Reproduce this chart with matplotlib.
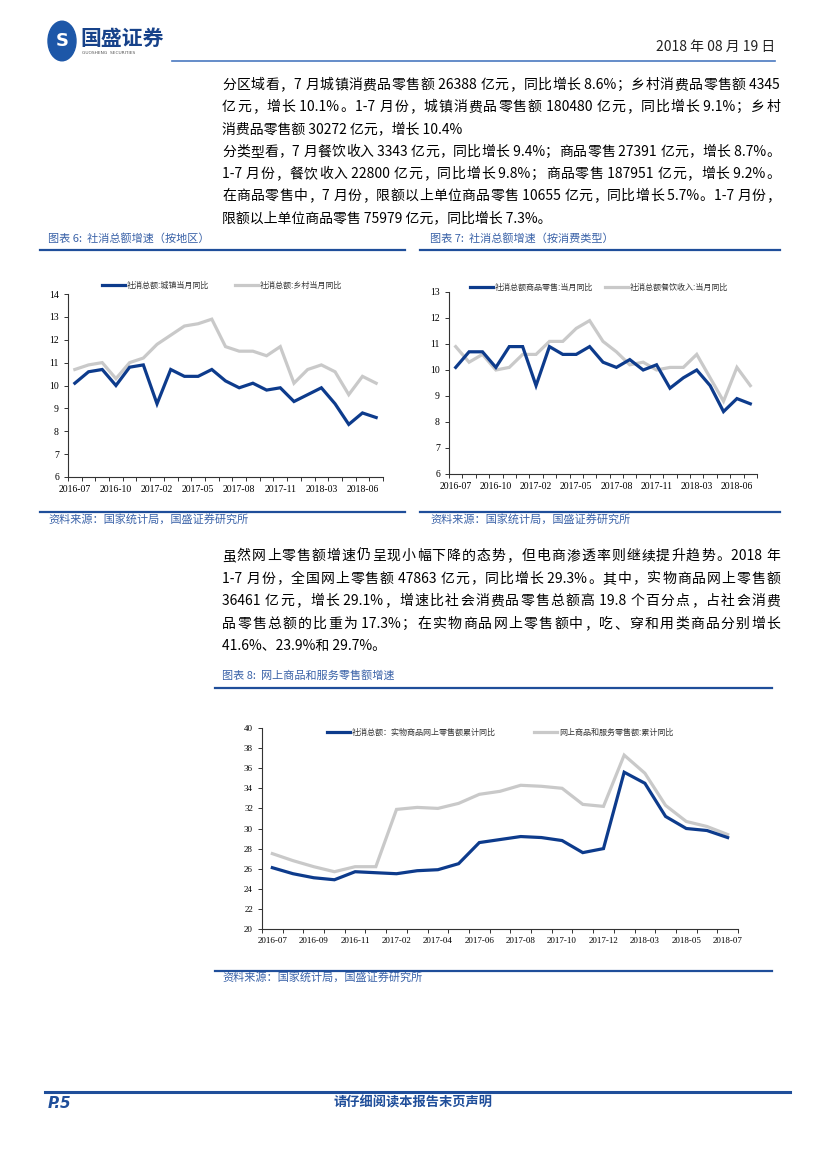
import matplotlib
matplotlib.use('Agg')
import matplotlib.pyplot as plt
from matplotlib.patches import Circle
from matplotlib.lines import Line2D

# fuentes: CJK primero, DejaVu para lo que falte
plt.rcParams['font.family'] = ['Noto Sans CJK SC', 'DejaVu Sans']

# ---------------- datos ----------------
meses = ['2016-07', '2016-08', '2016-09', '2016-10', '2016-11', '2016-12',
         '2017-02', '2017-03', '2017-04', '2017-05', '2017-06', '2017-07',
         '2017-08', '2017-09', '2017-10', '2017-11', '2017-12',
         '2018-02', '2018-03', '2018-04', '2018-05', '2018-06', '2018-07']

# grafico 6: por region
urbano = [10.1, 10.6, 10.7, 10.0, 10.8, 10.9, 9.2, 10.7, 10.4, 10.4, 10.7, 10.2,
          9.9, 10.1, 9.8, 9.9, 9.3, 9.6, 9.9, 9.2, 8.3, 8.8, 8.6]
rural = [10.7, 10.9, 11.0, 10.3, 11.0, 11.2, 11.8, 12.2, 12.6, 12.7, 12.9, 11.7,
         11.5, 11.5, 11.3, 11.7, 10.1, 10.7, 10.9, 10.6, 9.6, 10.4, 10.1]
leyenda6 = ['社消总额:城镇当月同比', '社消总额:乡村当月同比']

# grafico 7: por tipo de consumo
mercancias = [10.1, 10.7, 10.7, 10.1, 10.9, 10.9, 9.4, 10.9, 10.6, 10.6, 10.9, 10.3,
              10.1, 10.4, 10.0, 10.2, 9.3, 9.7, 10.0, 9.4, 8.4, 8.9, 8.7]
restaurantes = [10.9, 10.3, 10.6, 10.0, 10.1, 10.6, 10.6, 11.1, 11.1, 11.6, 11.9, 11.1,
                10.7, 10.2, 10.3, 10.0, 10.1, 10.1, 10.6, 9.7, 8.8, 10.1, 9.4]
leyenda7 = ['社消总额商品零售:当月同比', '社消总额餐饮收入:当月同比']

# grafico 8: ventas en linea (acumulado)
fisicos = [26.1, 25.5, 25.1, 24.9, 25.7, 25.6, 25.5, 25.8, 25.9, 26.5, 28.6, 28.9,
           29.2, 29.1, 28.8, 27.6, 28.0, 35.6, 34.5, 31.2, 30.0, 29.8, 29.1]
en_linea = [27.5, 26.8, 26.2, 25.7, 26.2, 26.2, 31.9, 32.1, 32.0, 32.5, 33.4, 33.7,
            34.3, 34.2, 34.0, 32.4, 32.2, 37.3, 35.5, 32.3, 30.7, 30.2, 29.4]
leyenda8 = ['社消总额：实物商品网上零售额累计同比', '网上商品和服务零售额:累计同比']

# texto: (linea, justificada?)
parrafo1 = [('分区域看，7 月城镇消费品零售额 26388 亿元，同比增长 8.6%；乡村消费品零售额 4345', True),
            ('亿元，增长 10.1%。1-7 月份，城镇消费品零售额 180480 亿元，同比增长 9.1%；乡村', True),
            ('消费品零售额 30272 亿元，增长 10.4%', False),
            ('分类型看，7 月餐饮收入 3343 亿元，同比增长 9.4%；商品零售 27391 亿元，增长 8.7%。', True),
            ('1-7 月份，餐饮收入 22800 亿元，同比增长 9.8%；商品零售 187951 亿元，增长 9.2%。', True),
            ('在商品零售中，7 月份，限额以上单位商品零售 10655 亿元，同比增长 5.7%。1-7 月份，', True),
            ('限额以上单位商品零售 75979 亿元，同比增长 7.3%。', False)]
parrafo2 = [('虽然网上零售额增速仍呈现小幅下降的态势，但电商渗透率则继续提升趋势。2018 年', True),
            ('1-7 月份，全国网上零售额 47863 亿元，同比增长 29.3%。其中，实物商品网上零售额', True),
            ('36461 亿元，增长 29.1%，增速比社会消费品零售总额高 19.8 个百分点，占社会消费', True),
            ('品零售总额的比重为 17.3%；在实物商品网上零售额中，吃、穿和用类商品分别增长', True),
            ('41.6%、23.9%和 29.7%。', False)]

# colores
AZUL = '#0D3B8C'
GRIS = '#C9C9C9'
AZUL_LINEA = '#1F4E9A'
AZUL_TEXTO = '#3A62A8'

W, H = 827, 1169
fig = plt.figure(figsize=(8.27, 11.69), dpi=100)
renderer = fig.canvas.get_renderer()


# convierte pixeles (desde arriba) a fraccion de figura
def fx(x):
    return x / W


def fy(y):
    return 1 - y / H


def linea(x0, x1, y, lw=1.6, color=AZUL_LINEA):
    fig.add_artist(Line2D([fx(x0), fx(x1)], [fy(y), fy(y)], transform=fig.transFigure,
                          lw=lw, color=color))


def texto(x, y, s, **kw):
    return fig.text(fx(x), fy(y), s, va='center', **kw)


# separa una linea en piezas: cada caracter CJK solo, lo ascii junto (con sus espacios)
def piezas(s):
    res = []
    actual = ''
    for ch in s:
        if ord(ch) < 128:
            actual += ch
        else:
            if actual:
                res.append(actual)
            actual = ''
            res.append(ch)
    if actual:
        res.append(actual)
    return res


# linea justificada entre x0 y x1
def linea_justificada(x0, x1, y, s, justificar, tam=10.0):
    if not justificar:
        texto(x0, y, s, fontsize=tam, color='black')
        return
    partes = piezas(s)
    objs = [texto(x0, y, p, fontsize=tam, color='black') for p in partes]
    anchos = [o.get_window_extent(renderer).width for o in objs]
    hueco = (x1 - x0 - sum(anchos)) / (len(partes) - 1)
    xa = x0
    for o, a in zip(objs, anchos):
        o.set_x(fx(xa))
        xa += a + hueco


# ---------------- encabezado ----------------
fig.add_artist(Circle((fx(62), fy(41)), 14 / W, transform=fig.transFigure,
                      color='#1D57A8', zorder=3))
texto(62, 41, 'S', ha='center', fontsize=13, fontweight='bold', color='white',
      family='DejaVu Sans', zorder=4)
texto(80, 38, '国盛证券', fontsize=15, fontweight='bold', color='#17428A')
texto(82, 53, 'GUOSHENG  SECURITIES', fontsize=3.2, color='#555555', family='DejaVu Sans')
texto(775, 47, '2018 年 08 月 19 日', ha='right', fontsize=10, color='#222222')
linea(172, 775, 61, lw=1.2, color='#4A79C0')

# ---------------- texto principal ----------------
for i, (s, j) in enumerate(parrafo1):
    linea_justificada(222, 780, 85 + i * 22.2, s, j)
for i, (s, j) in enumerate(parrafo2):
    linea_justificada(222, 780, 556 + i * 22.6, s, j)


# ---------------- graficos ----------------
def grafico(caja, series, colores, nombres, ylim, yticks, paso, leyenda, tam=7):
    l, t, r, b = caja
    ax = fig.add_axes([fx(l), fy(b), (r - l) / W, (b - t) / H])
    n = len(meses)
    x = list(range(n))
    for datos, c in zip(series, colores):
        ax.plot(x, datos, color=c, lw=2.3, solid_joinstyle='miter')
    ax.set_xlim(-0.5, n - 0.5)
    ax.set_ylim(ylim)
    ax.set_yticks(yticks)
    ax.set_xticks(x[::paso])
    ax.set_xticklabels(meses[::paso])
    ax.set_xticks([i - 0.5 for i in range(n + 1)], minor=True)
    ax.tick_params(axis='x', which='major', length=0, pad=6, labelsize=tam)
    ax.tick_params(axis='x', which='minor', length=3, width=0.7, direction='out', color='#333333')
    ax.tick_params(axis='y', length=3, width=0.7, labelsize=tam, color='#333333')
    for lab in ax.get_xticklabels() + ax.get_yticklabels():
        lab.set_family('Liberation Serif')
    for lado in ['top', 'right']:
        ax.spines[lado].set_visible(False)
    for lado in ['left', 'bottom']:
        ax.spines[lado].set_linewidth(0.8)
        ax.spines[lado].set_color('#333333')
    # leyenda dibujada a mano
    for (x0, y0), nombre, c in zip(leyenda, nombres, colores):
        fig.add_artist(Line2D([fx(x0), fx(x0 + 23)], [fy(y0), fy(y0)],
                              transform=fig.transFigure, lw=2.3, color=c))
        texto(x0 + 25, y0, nombre, fontsize=5.8, color='#333333')
    return ax


# grafico 6
texto(48, 238, '图表 6:  社消总额增速（按地区）', fontsize=8, color=AZUL_TEXTO)
linea(40, 405, 250)
grafico((68, 294, 383, 477), [rural, urbano], [GRIS, AZUL],
        [leyenda6[1], leyenda6[0]], (6, 14), range(6, 15), 3,
        [(235, 285), (102, 285)])
linea(40, 405, 512)
texto(48, 519, '资料来源：国家统计局，国盛证券研究所', fontsize=8, color=AZUL_TEXTO)

# grafico 7
texto(430, 238, '图表 7:  社消总额增速（按消费类型）', fontsize=8, color=AZUL_TEXTO)
linea(420, 780, 250)
grafico((449, 292, 757, 474), [restaurantes, mercancias], [GRIS, AZUL],
        [leyenda7[1], leyenda7[0]], (6, 13), range(6, 14), 3,
        [(605, 287), (470, 287)])
linea(420, 780, 512)
texto(430, 519, '资料来源：国家统计局，国盛证券研究所', fontsize=8, color=AZUL_TEXTO)

# grafico 8
texto(222, 675, '图表 8:  网上商品和服务零售额增速', fontsize=8, color=AZUL_TEXTO)
linea(215, 772, 688)
grafico((262, 728, 738, 929), [en_linea, fisicos], [GRIS, AZUL],
        [leyenda8[1], leyenda8[0]], (20, 40), range(20, 41, 2), 2,
        [(534, 732), (327, 732)], tam=6.5)
linea(215, 772, 971)
texto(222, 977, '资料来源：国家统计局，国盛证券研究所', fontsize=8, color=AZUL_TEXTO)

# ---------------- pie de pagina ----------------
linea(45, 790, 1092, lw=2.2, color='#1F4E9A')
texto(48, 1103, 'P.5', fontsize=11, fontweight='bold', style='italic', color='#1F4E9A',
      family='DejaVu Sans')
texto(413, 1103, '请仔细阅读本报告末页声明', ha='center', fontsize=9.5, fontweight='bold',
      color='#1F4E9A')

fig.savefig('out.png', dpi=100)
